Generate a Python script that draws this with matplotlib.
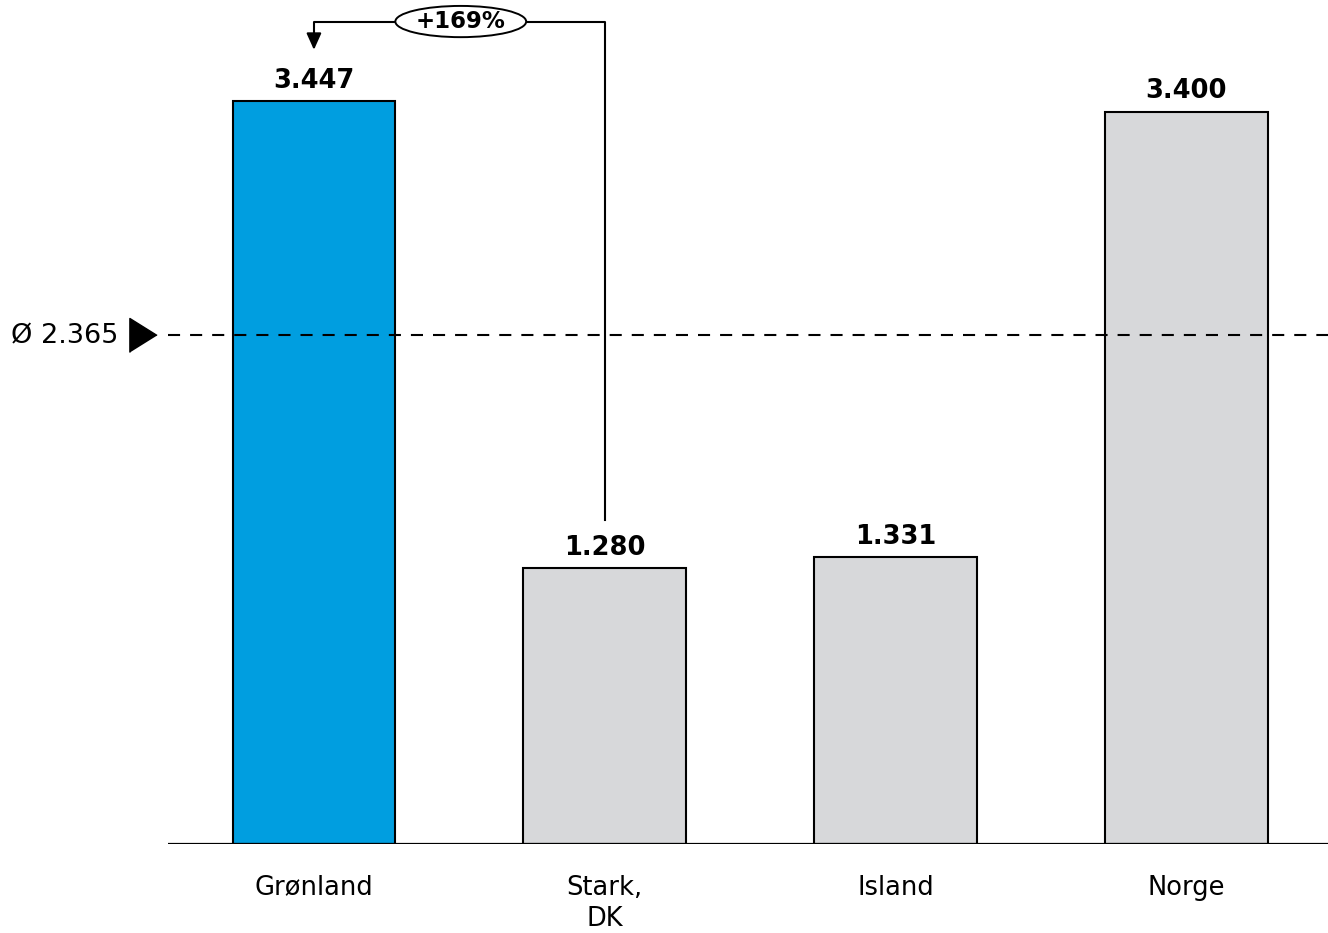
import matplotlib
matplotlib.use("Agg")
import matplotlib.pyplot as plt
from matplotlib.patches import Ellipse

categories = ["Grønland", "Stark,\nDK", "Island", "Norge"]
values = [3447, 1280, 1331, 3400]
value_labels = ["3.447", "1.280", "1.331", "3.400"]
bar_colors = ["#009ee0", "#d7d8da", "#d7d8da", "#d7d8da"]
average = 2365
average_label = "Ø 2.365"
change_label = "+169%"

plt.rcParams['font.family'] = ['DejaVu Sans']
fig = plt.figure(figsize=(13.28, 9.33), dpi=100)
ax = fig.add_axes([0.1265, 0.0954, 0.8735, 0.9046])
x = list(range(len(categories)))
ax.bar(x, values, width=0.56, color=bar_colors, edgecolor="black", linewidth=1.5, zorder=2)
ax.set_xlim(-0.502, 3.488)
ax.set_ylim(0, 3918)

for xi, v, lab in zip(x, values, value_labels):
    ax.text(xi, v + 35, lab, ha="center", va="bottom", fontsize=18.5, fontweight="bold")

# baseline
ax.axhline(0, color="black", linewidth=1.6, zorder=3)
for s in ax.spines.values():
    s.set_visible(False)
ax.set_yticks([])
ax.set_xticks(x)
ax.set_xticklabels(categories, fontsize=18.5, linespacing=1.25)
ax.tick_params(axis="x", length=0, pad=22)

# average line
ax.axhline(average, color="black", linestyle=(0, (5.8, 4.8)), linewidth=1.5, zorder=3)
ax.plot([-0.5865], [average], marker=[(-0.8, -1), (-0.8, 1), (0.8, 0)], markersize=24.5,
        color="black", clip_on=False)
ax.text(-0.674, average - 10, average_label, ha="right", va="center", fontsize=19.5)

# bracket annotation
top = 3818
ax.plot([1, 1, 0, 0], [1505, top, top, 3700], color="black", linewidth=1.5, clip_on=False, zorder=4)
ax.annotate("", xy=(0, 3674), xytext=(0, 3760),
            arrowprops=dict(arrowstyle="-|>,head_length=1.0,head_width=0.45", color="black", lw=1.5),
            zorder=5)
ell = Ellipse((0.505, top), width=0.45, height=145, facecolor="white", edgecolor="black",
              linewidth=1.4, zorder=5, clip_on=False)
ax.add_patch(ell)
ax.text(0.505, top, change_label, ha="center", va="center", fontsize=16.5, fontweight="bold", zorder=6)

fig.savefig("out.png", dpi=100)
